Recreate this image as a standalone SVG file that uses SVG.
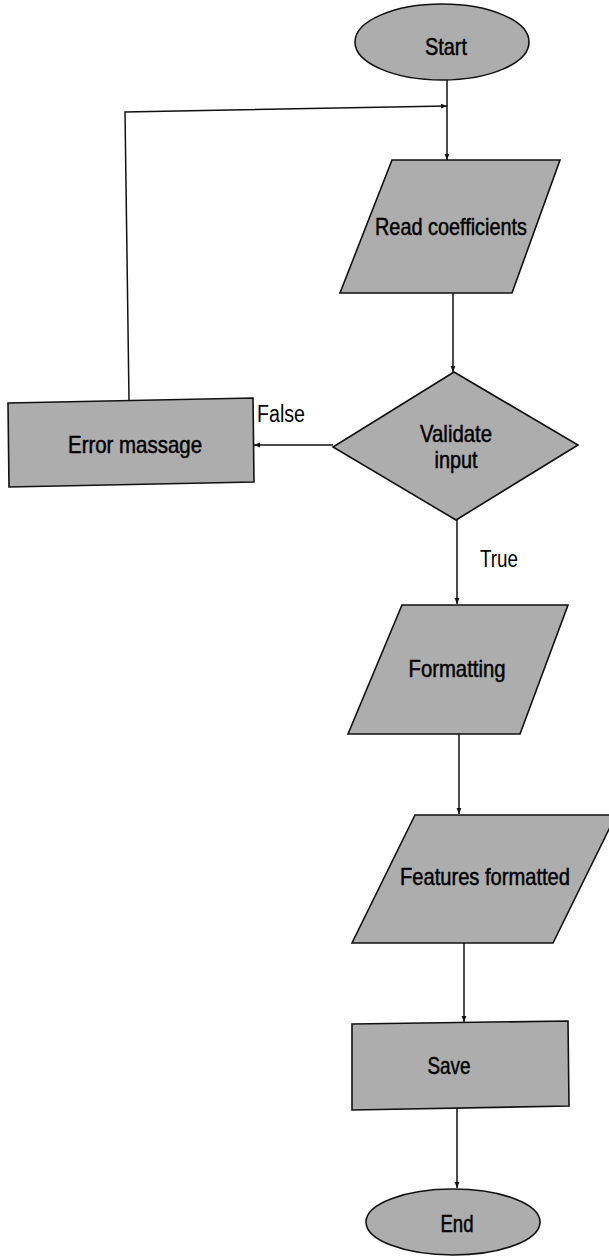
<svg xmlns="http://www.w3.org/2000/svg" width="609" height="1256" viewBox="0 0 609 1256">
  <style>
    .shape { fill: #adadad; stroke: #111; stroke-width: 1.6; }
    .lbl { font-family: "Liberation Sans", Arial, sans-serif; font-size: 24px; fill: #000; stroke: #000; stroke-width: 0.5; text-anchor: middle; }
    .cond { font-family: "Liberation Sans", Arial, sans-serif; font-size: 23px; fill: #000; }
    .wire { fill: none; stroke: #111; stroke-width: 1.5; }
  </style>
  <defs>
    <marker id="arrow" viewBox="0 0 10 10" refX="10" refY="5" markerWidth="6" markerHeight="6" orient="auto" markerUnits="userSpaceOnUse">
      <path d="M0,1 L10,5 L0,9 z" fill="#111"/>
    </marker>
  </defs>

  <!-- connectors -->
  <g id="connectors">
    <line class="wire" x1="447" y1="80" x2="447" y2="160" marker-end="url(#arrow)"/>
    <line class="wire" x1="453" y1="293" x2="453" y2="372" marker-end="url(#arrow)"/>
    <line class="wire" x1="333" y1="445" x2="254" y2="445" marker-end="url(#arrow)"/>
    <polyline class="wire" points="129,400 125,112 447,106" marker-end="url(#arrow)"/>
    <line class="wire" x1="457" y1="520" x2="457" y2="604" marker-end="url(#arrow)"/>
    <line class="wire" x1="459" y1="734" x2="459" y2="814" marker-end="url(#arrow)"/>
    <line class="wire" x1="464" y1="943" x2="464" y2="1022" marker-end="url(#arrow)"/>
    <line class="wire" x1="457" y1="1108" x2="457" y2="1188" marker-end="url(#arrow)"/>
    <text class="cond" x="257" y="422" textLength="48" lengthAdjust="spacingAndGlyphs">False</text>
    <text class="cond" x="480" y="567" textLength="38" lengthAdjust="spacingAndGlyphs">True</text>
  </g>

  <!-- start terminal -->
  <g id="start">
    <ellipse class="shape" cx="442" cy="42" rx="87" ry="38"/>
    <text class="lbl" x="446" y="55" textLength="42" lengthAdjust="spacingAndGlyphs">Start</text>
  </g>

  <!-- input: read coefficients -->
  <g id="read">
    <polygon class="shape" points="392,160 560,160 512,293 340,293"/>
    <text class="lbl" x="451" y="235" textLength="152" lengthAdjust="spacingAndGlyphs">Read coefficients</text>
  </g>

  <!-- decision: validate input -->
  <g id="validate">
    <polygon class="shape" points="454,372 578,445 456,520 333,447"/>
    <text class="lbl" x="456" y="442" textLength="72" lengthAdjust="spacingAndGlyphs">Validate</text>
    <text class="lbl" x="456" y="468" textLength="43" lengthAdjust="spacingAndGlyphs">input</text>
  </g>

  <!-- error process -->
  <g id="error">
    <polygon class="shape" points="8,403 253,398 254,482 9,487"/>
    <text class="lbl" x="135" y="453" textLength="134" lengthAdjust="spacingAndGlyphs">Error massage</text>
  </g>

  <!-- formatting -->
  <g id="formatting">
    <polygon class="shape" points="402,605 568,605 520,734 348,734"/>
    <text class="lbl" x="457" y="677" textLength="97" lengthAdjust="spacingAndGlyphs">Formatting</text>
  </g>

  <!-- features formatted -->
  <g id="features">
    <polygon class="shape" points="415,815 616,815 553,943 352,943"/>
    <text class="lbl" x="485" y="885" textLength="170" lengthAdjust="spacingAndGlyphs">Features formatted</text>
  </g>

  <!-- save process -->
  <g id="save">
    <polygon class="shape" points="352,1024 568,1021 569,1106 352,1110"/>
    <text class="lbl" x="449" y="1074" textLength="43" lengthAdjust="spacingAndGlyphs">Save</text>
  </g>

  <!-- end terminal -->
  <g id="end">
    <ellipse class="shape" cx="453" cy="1222" rx="87" ry="33"/>
    <text class="lbl" x="457" y="1232" textLength="33" lengthAdjust="spacingAndGlyphs">End</text>
  </g>
</svg>
